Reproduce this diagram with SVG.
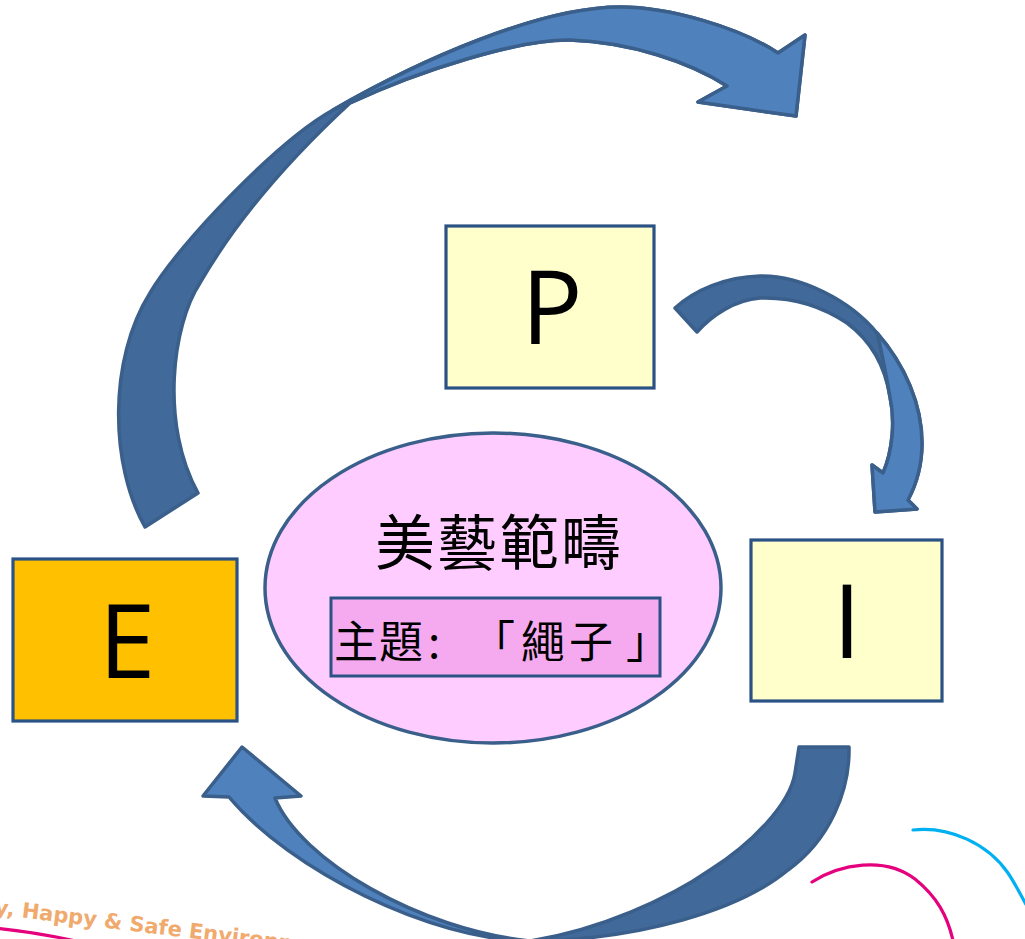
<svg xmlns="http://www.w3.org/2000/svg" width="1025" height="939" viewBox="0 0 1025 939">
<style>
.box{stroke:#2B5285;stroke-width:3.2}
.letter{font-family:"Open Sans","Liberation Sans",sans-serif;font-size:102px;fill:#000;text-anchor:middle}
.arrDark{fill:#41699A;stroke:#3A5F8B;stroke-width:3.5;stroke-linejoin:round}
.arrLight{fill:#4F81BD;stroke:#3A5F8B;stroke-width:3.5;stroke-linejoin:round}
.cjk{font-family:"Noto Sans CJK TC","Noto Sans CJK SC",sans-serif;fill:#000}
.deco{fill:none;stroke-width:3.2;stroke-linecap:round}
</style>
<rect width="1025" height="939" fill="#FFFFFF"/>
<!-- decorations -->
<path class="deco" stroke="#E5007E" d="M812,882 C840,864 885,856 915,879 C936,896 948,915 954,945"/>
<path class="deco" stroke="#00B0F0" d="M913,830 C950,826 988,844 1008,873 C1016,885 1022,897 1030,912"/>
<path class="deco" stroke="#E5007E" d="M-5,928 C25,931 50,935 80,942"/>
<text x="-6" y="914" transform="rotate(7 -6 914)" font-family="DejaVu Sans, Verdana, sans-serif" font-weight="bold" font-size="21" fill="#F0AA6E">y, Happy &amp; Safe Environment</text>
<!-- connectors -->
<g id="connectors">
  <g id="arrow-E-P">
    <path class="arrDark" d="M145,527 C110,465 108,360 150,293 C180,242 279,140 333,110 C420,60 540,7 620,7 C670,7 740,28 778,53 L805,35 L796,116 L698,102 L727,86 C690,62 630,42 570,40 C520,39 420,70 350,103 C310,140 245,205 200,283 C172,325 160,425 198,493 Z"/>
    <path class="arrLight" d="M333,110 C420,60 540,7 620,7 C670,7 740,28 778,53 L805,35 L796,116 L698,102 L727,86 C690,62 630,42 570,40 C520,39 420,70 350,103 Z"/>
  </g>
  <g id="arrow-P-I">
    <path class="arrDark" d="M675,308 C695,290 725,277 760,276 C800,275 850,300 877,333 C905,365 922,405 922,443 C922,465 916,485 908,500 L917,509 L875,512 L872,465 L883,473 C893,450 895,420 890,397 C885,365 870,340 847,323 C820,305 790,297 760,298 C735,300 712,315 697,332 Z"/>
    <path class="arrLight" d="M877,333 C905,365 922,405 922,443 C922,465 916,485 908,500 L917,509 L875,512 L872,465 L883,473 C893,450 895,420 890,397 C886,375 882,352 877,333 Z"/>
  </g>
  <g id="arrow-I-E">
    <path class="arrDark" d="M799,747 L849,747 C850,790 830,840 788,870 C740,910 640,940 530,941 C600,930 670,898 710,870 C750,845 790,805 795,773 Z"/>
    <path class="arrLight" d="M530,941 C430,940 290,870 229,797 L203,796 L242,747 L301,796 L275,798 C300,860 420,930 530,941 Z"/>
  </g>
</g>
<!-- nodes -->
<g id="node-P">
  <rect class="box" x="446" y="226" width="208" height="162" fill="#FFFFCC"/>
  <text class="letter" x="552" y="344">P</text>
</g>
<g id="node-I">
  <rect class="box" x="751" y="540" width="191" height="161" fill="#FFFFCC"/>
  <text class="letter" x="847" y="658">I</text>
</g>
<g id="node-E">
  <rect class="box" x="13" y="559" width="224" height="162" fill="#FFC000"/>
  <text class="letter" x="127" y="678">E</text>
</g>
<g id="node-center">
  <ellipse cx="493" cy="588" rx="228" ry="155" fill="#FFCCFF" stroke="#3A5F8B" stroke-width="3.5"/>
  <text class="cjk" x="499" y="565" font-size="60" text-anchor="middle" letter-spacing="2">美藝範疇</text>
  <rect x="331" y="598" width="329" height="78" fill="#F5AAF0" stroke="#2B5285" stroke-width="3"/>
  <text class="cjk" x="334 379 428 471 521 569 626" y="658" font-size="44">主題:「繩子」</text>
</g>
</svg>
